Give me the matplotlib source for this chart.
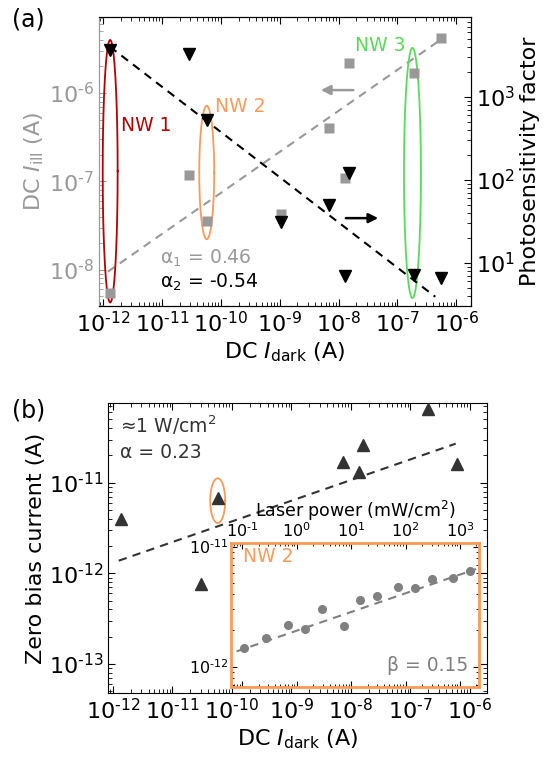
import numpy as np
import matplotlib
matplotlib.use("Agg")
import matplotlib.pyplot as plt
from matplotlib.ticker import LogLocator, NullFormatter, FuncFormatter

# ---- panel (a) data ----
idark_sq = [1.3e-12, 2.9e-11, 5.8e-11, 1.07e-9, 6.8e-9, 1.5e-8, 1.3e-8, 1.9e-7, 5.4e-7]
iill = [5.5e-9, 1.17e-7, 3.6e-8, 4.3e-8, 4.0e-7, 2.2e-6, 1.1e-7, 1.7e-6, 4.2e-6]
idark_tri = [1.3e-12, 2.9e-11, 5.8e-11, 1.07e-9, 6.8e-9, 1.5e-8, 1.3e-8, 1.9e-7, 5.4e-7]
photo_factor = [3700, 3300, 530, 31, 49, 121, 7.0, 7.2, 6.5]
fit1_x = [1.2e-12, 5.4e-7]
fit1_y = [9.5e-9, 4.0e-6]
fit2_x = [1.3e-12, 4.4e-7]
fit2_y = [4000, 3.9]
# ellipses (log10 centre x, log10 centre y, half width, half height in decades)
nw_ellipses = [(-11.88, -6.885, 0.127, 1.485, "#b80000"),
               (-10.24, -6.90, 0.127, 0.755, "#ff9955"),
               (-6.745, -6.905, 0.144, 1.415, "#55dd55")]

# ---- panel (b) data ----
idark_b = [1.35e-12, 5.8e-11, 3.0e-11, 7.4e-9, 1.6e-8, 1.35e-8, 2.0e-7, 6.0e-7]
zero_bias = [4.0e-12, 6.8e-12, 7.6e-13, 1.7e-11, 2.6e-11, 1.3e-11, 6.5e-11, 1.6e-11]
fitb_x = [1.26e-12, 5.8e-7]
fitb_y = [1.38e-12, 2.7e-11]

# ---- inset data ----
laser_power = [0.108, 0.267, 0.684, 1.40, 2.96, 7.28, 14.5, 30.3, 73.5, 148, 300, 738, 1560]
inset_current = [1.43e-12, 1.74e-12, 2.22e-12, 2.06e-12, 3.0e-12, 2.16e-12, 3.6e-12,
                 3.9e-12, 4.6e-12, 4.5e-12, 5.4e-12, 5.5e-12, 6.3e-12]
fiti_x = [0.078, 1980]
fiti_y = [1.34e-12, 6.5e-12]

GRAY = "#999999"
ORANGE = "#ff9955"
FS = 16


def pow10_label(v, pos):
    e = int(round(np.log10(v)))
    return r"$\mathdefault{10^{\text{%d}}}$" % e


def log_ticks(ax, which_axes=("x", "y")):
    for a in which_axes:
        axis = ax.xaxis if a == "x" else ax.yaxis
        axis.set_major_locator(LogLocator(base=10, numticks=30))
        axis.set_major_formatter(FuncFormatter(pow10_label))
        axis.set_minor_locator(LogLocator(base=10, subs=np.arange(2, 10), numticks=30))
        axis.set_minor_formatter(NullFormatter())


fig = plt.figure(figsize=(5.5, 7.61), dpi=100)

# ================= panel (a) =================
ax = fig.add_axes([0.18, 0.5979, 0.6764, 0.3798])
ax.set_xscale("log")
ax.set_yscale("log")
ax.set_xlim(10**-12.07, 10**-5.75)
ax.set_ylim(10**-8.41, 10**-5.14)
log_ticks(ax)
ax.plot(idark_sq, iill, "s", color=GRAY, ms=6.5, mec="none", zorder=3)
ax.plot(fit1_x, fit1_y, "--", color=GRAY, lw=1.5, dashes=(4, 3))
t = np.linspace(0, 2 * np.pi, 200)
for cx, cy, hw, hh, col in nw_ellipses:
    ax.plot(10 ** (cx + hw * np.cos(t)), 10 ** (cy + hh * np.sin(t)), color=col, lw=1.3, zorder=2)
ax.tick_params(axis="y", which="both", colors=GRAY, labelsize=FS, direction="in")
ax.tick_params(axis="x", which="both", top=True, direction="in", labelsize=FS)
ax.tick_params(which="major", length=5)
ax.tick_params(which="minor", length=3)
ax.spines["left"].set_color(GRAY)
ax.set_ylabel(r"DC $I_\mathrm{ill}$ (A)", fontsize=FS, color=GRAY, labelpad=2)
ax.set_xlabel(r"DC $I_\mathrm{dark}$ (A)", fontsize=FS, labelpad=3)

ax2 = ax.twinx()
ax2.set_yscale("log")
ax2.set_ylim(10**0.48, 10**3.96)
log_ticks(ax2, ("y",))
ax2.plot(idark_tri, photo_factor, "v", color="black", ms=9, zorder=4)
ax2.plot(fit2_x, fit2_y, "--", color="black", lw=1.5, dashes=(4, 3))
ax2.tick_params(axis="y", which="both", direction="in", labelsize=FS)
ax2.tick_params(which="major", length=5)
ax2.tick_params(which="minor", length=3)
ax2.spines["left"].set_color(GRAY)
ax2.set_ylabel("Photosensitivity factor", fontsize=FS, labelpad=4)

ax2.text(0.059, 0.626, "NW 1", transform=ax.transAxes, color="#b80000", fontsize=13.5, va="center")
ax2.text(0.312, 0.689, "NW 2", transform=ax.transAxes, color=ORANGE, fontsize=13.5, va="center")
ax2.text(0.688, 0.903, "NW 3", transform=ax.transAxes, color="#55dd55", fontsize=13.5, va="center")
ax2.text(0.164, 0.166, r"$\mathrm{\alpha_1}$ = 0.46", transform=ax.transAxes, color=GRAY,
         fontsize=13.5, va="center")
ax2.text(0.164, 0.083, r"$\mathrm{\alpha_2}$ = -0.54", transform=ax.transAxes, color="black",
         fontsize=13.5, va="center")
ax2.annotate("", xy=(0.589, 0.747), xytext=(0.691, 0.747), xycoords=ax.transAxes,
             textcoords=ax.transAxes,
             arrowprops=dict(arrowstyle="-|>", color=GRAY, lw=1.8, mutation_scale=14))
ax2.annotate("", xy=(0.758, 0.304), xytext=(0.656, 0.304), xycoords=ax.transAxes,
             textcoords=ax.transAxes,
             arrowprops=dict(arrowstyle="-|>", color="black", lw=1.8, mutation_scale=14))
fig.text(0.022, 0.99, "(a)", fontsize=17, va="top")

# ================= panel (b) =================
bx = fig.add_axes([0.1964, 0.0894, 0.6891, 0.3810])
bx.set_xscale("log")
bx.set_yscale("log")
bx.set_xlim(10**-12.08, 10**-5.71)
bx.set_ylim(10**-13.32, 10**-10.12)
log_ticks(bx)
bx.plot(idark_b, zero_bias, "^", color="#333333", ms=8.5, zorder=3)
bx.plot(fitb_x, fitb_y, "--", color="#333333", lw=1.5, dashes=(4, 3))
bx.plot(10 ** (np.log10(idark_b[1]) + 0.126 * np.cos(t)),
        10 ** (np.log10(zero_bias[1]) - 0.03 + 0.247 * np.sin(t)), color=ORANGE, lw=1.3)
bx.tick_params(which="both", direction="in", top=True, right=True, labelsize=FS)
bx.tick_params(which="major", length=5)
bx.tick_params(which="minor", length=3)
bx.set_ylabel("Zero bias current (A)", fontsize=FS, labelpad=2)
bx.set_xlabel(r"DC $I_\mathrm{dark}$ (A)", fontsize=FS, labelpad=3)
bx.text(0.032, 0.924, "≈1 W/cm$^2$", transform=bx.transAxes, color="#333333",
        fontsize=13.5, va="center")
bx.text(0.032, 0.831, "α = 0.23", transform=bx.transAxes, color="#333333",
        fontsize=13.5, va="center")
fig.text(0.022, 0.477, "(b)", fontsize=17, va="top")

# ---- inset ----
ix = fig.add_axes([0.42, 0.0972, 0.4509, 0.1893])
ix.set_xscale("log")
ix.set_yscale("log")
ix.set_xlim(10**-1.21, 10**3.35)
ix.set_ylim(10**-12.17, 10**-10.97)
log_ticks(ix)
ix.plot(laser_power, inset_current, "o", color="#808080", ms=5.5, zorder=3)
ix.plot(fiti_x, fiti_y, "--", color="#808080", lw=1.5, dashes=(4, 3))
ix.xaxis.tick_top()
ix.xaxis.set_label_position("top")
ix.tick_params(which="both", direction="in", top=True, bottom=True, left=True, right=True,
               labelsize=11.5, pad=2)
ix.tick_params(which="major", length=4)
ix.tick_params(which="minor", length=2)
for s in ix.spines.values():
    s.set_color(ORANGE)
    s.set_linewidth(2)
ix.set_xlabel("Laser power (mW/cm$^2$)", fontsize=12.5, labelpad=3)
ix.text(0.048, 0.903, "NW 2", transform=ix.transAxes, color=ORANGE, fontsize=13.5, va="center")
ix.text(0.956, 0.146, "β = 0.15", transform=ix.transAxes, color="#808080",
        fontsize=13.5, va="center", ha="right")

fig.savefig("out.png", dpi=100)
